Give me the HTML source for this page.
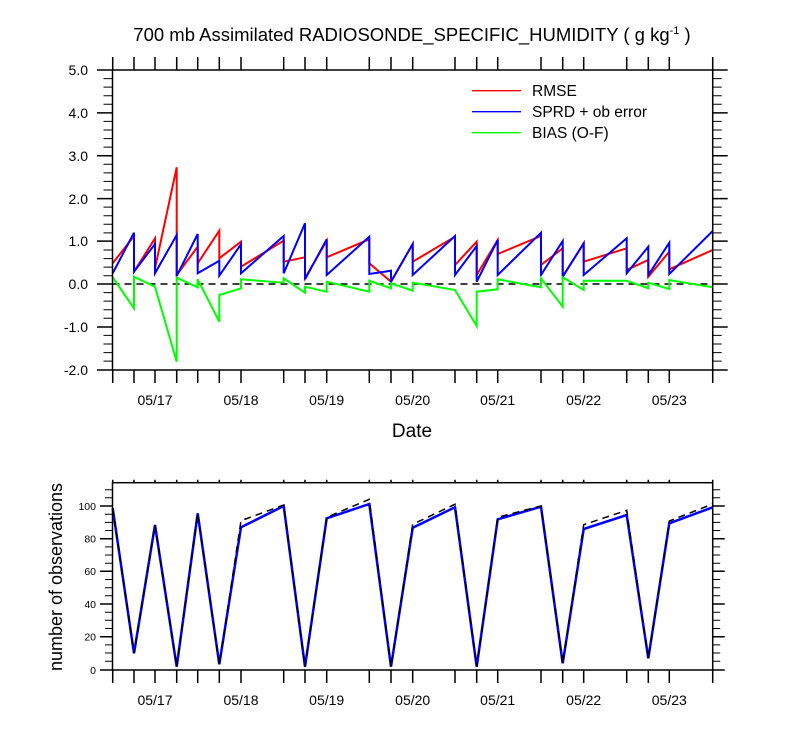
<!DOCTYPE html>
<html><head><meta charset="utf-8"><style>
body{margin:0;background:#fff}
svg text{font-family:"Liberation Sans",sans-serif;fill:#000}
</style></head><body>
<svg width="800" height="750" viewBox="0 0 800 750" xmlns="http://www.w3.org/2000/svg">
<text x="412" y="41" font-size="18.5" text-anchor="middle">700 mb Assimilated RADIOSONDE_SPECIFIC_HUMIDITY ( g kg<tspan font-size="11" dy="-7">-1</tspan><tspan dy="7"> )</tspan></text>
<g id="top">
<line x1="112.5" y1="284" x2="712.7" y2="284" stroke="#000" stroke-width="1.5" stroke-dasharray="7,5"/>
<polyline fill="none" stroke="#ff0000" stroke-width="2" points="112.7,263.3 134,236 134,271.7 155,238.3 155,268.3 176.7,167.3 176.7,275 197.7,246.7 197.7,263.3 219.3,230.7 219.3,258.3 241,241.7 241,266.7 283.7,240.7 283.7,261.7 305,257.3 305,278.3 326.7,240.7 326.7,257.3 369.3,239.3 369.3,263.3 391,281.7 412.7,244 412.7,261.7 455,236.7 455,265 476.7,241.7 476.7,275 497.7,240 497.7,254 541,236 541,265 562.7,248.3 562.7,276.7 583.7,243.3 583.7,261.7 626.7,248.3 626.7,270 648.3,260 648.3,276.7 669.3,251.7 669.3,269.3 712.7,250"/>
<polyline fill="none" stroke="#0000ff" stroke-width="2" points="112.7,273.3 134,232.7 134,271.7 155,244 155,273.3 176.7,235 176.7,276 197.7,234 197.7,273.3 219.3,260.7 219.3,275.7 241,244.3 241,273.3 283.7,236 283.7,273.3 305,223.3 305,279.3 326.7,239.3 326.7,275 369.3,236.7 369.3,274 391,270.7 391,281.7 412.7,244 412.7,275 455,236 455,275 476.7,246 476.7,281.7 497.7,240 497.7,275 541,232.7 541,275 562.7,241 562.7,276.7 583.7,243.3 583.7,275 626.7,238.3 626.7,273.3 648.3,246.7 648.3,275 669.3,242.7 669.3,274 712.7,231"/>
<polyline fill="none" stroke="#00ff00" stroke-width="2" points="112.7,277.3 134,308.3 134,276.7 155,286.7 176.7,361.7 176.7,277.7 197.7,287.3 197.7,279.3 219.3,321.7 219.3,295 241,288.3 241,279.3 283.7,282.7 283.7,278.3 305,292.7 305,286.7 326.7,291.7 326.7,281.7 369.3,291.7 369.3,280.7 391,288.3 391,283.3 412.7,290.7 412.7,282.7 455,290 476.7,326 476.7,291.7 497.7,289.3 497.7,279.3 541,287.3 541,278.3 562.7,306.7 562.7,277.3 583.7,290 583.7,280.7 626.7,280.7 648.3,288.3 648.3,282.7 669.3,289 669.3,280 712.7,287.3"/>
<rect x="112.5" y="70" width="600.2" height="300" fill="none" stroke="#000" stroke-width="1.5"/>
<g stroke="#000" stroke-width="1.5">
<path d="M112.7 370v13M134 370v13M155 370v13M176.7 370v13M197.7 370v13M219.3 370v13M241 370v13M283.7 370v13M305 370v13M326.7 370v13M369.3 370v13M391 370v13M412.7 370v13M455 370v13M476.7 370v13M497.7 370v13M541 370v13M562.7 370v13M583.7 370v13M626.7 370v13M648.3 370v13M669.3 370v13M712.7 370v13"/>
<path d="M112.7 70v-13M134 70v-13M155 70v-13M176.7 70v-13M197.7 70v-13M219.3 70v-13M241 70v-13M283.7 70v-13M305 70v-13M326.7 70v-13M369.3 70v-13M391 70v-13M412.7 70v-13M455 70v-13M476.7 70v-13M497.7 70v-13M541 70v-13M562.7 70v-13M583.7 70v-13M626.7 70v-13M648.3 70v-13M669.3 70v-13M712.7 70v-13"/>
</g>
<g stroke="#000" stroke-width="1.5">
<path d="M97 70h15.5M97 112.9h15.5M97 155.7h15.5M97 198.6h15.5M97 241.1h15.5M97 284h15.5M97 327h15.5M97 370h15.5"/>
<path d="M712.7 70h15M712.7 112.9h15M712.7 155.7h15M712.7 198.6h15M712.7 241.1h15M712.7 284h15M712.7 327h15M712.7 370h15"/>
</g>
<g stroke="#000" stroke-width="1">
<path d="M103.5 78.6h9M103.5 87.1h9M103.5 95.7h9M103.5 104.3h9M103.5 121.4h9M103.5 130h9M103.5 138.6h9M103.5 147.1h9M103.5 164.3h9M103.5 172.9h9M103.5 181.4h9M103.5 190h9M103.5 207.1h9M103.5 215.7h9M103.5 224.3h9M103.5 232.9h9M103.5 250h9M103.5 258.6h9M103.5 267.1h9M103.5 275.7h9M103.5 292.6h9M103.5 301.1h9M103.5 309.7h9M103.5 318.3h9M103.5 335.4h9M103.5 344h9M103.5 352.6h9M103.5 361.1h9"/>
<path d="M712.7 78.6h9M712.7 87.1h9M712.7 95.7h9M712.7 104.3h9M712.7 121.4h9M712.7 130h9M712.7 138.6h9M712.7 147.1h9M712.7 164.3h9M712.7 172.9h9M712.7 181.4h9M712.7 190h9M712.7 207.1h9M712.7 215.7h9M712.7 224.3h9M712.7 232.9h9M712.7 250h9M712.7 258.6h9M712.7 267.1h9M712.7 275.7h9M712.7 292.6h9M712.7 301.1h9M712.7 309.7h9M712.7 318.3h9M712.7 335.4h9M712.7 344h9M712.7 352.6h9M712.7 361.1h9"/>
</g>
<g font-size="14" text-anchor="end">
<text x="88" y="75">5.0</text><text x="88" y="118">4.0</text><text x="88" y="161">3.0</text><text x="88" y="204">2.0</text><text x="88" y="246">1.0</text><text x="88" y="289">0.0</text><text x="88" y="332">-1.0</text><text x="88" y="375">-2.0</text>
</g>
<g font-size="14" text-anchor="middle">
<text x="155" y="405">05/17</text><text x="241" y="405">05/18</text><text x="326.7" y="405">05/19</text><text x="412.7" y="405">05/20</text><text x="497.7" y="405">05/21</text><text x="583.7" y="405">05/22</text><text x="669.3" y="405">05/23</text>
</g>
<text x="412" y="437" font-size="19" text-anchor="middle">Date</text>
<line x1="472" y1="90.7" x2="521" y2="90.7" stroke="#ff0000" stroke-width="1.3"/>
<line x1="472" y1="111.7" x2="521" y2="111.7" stroke="#0000ff" stroke-width="1.3"/>
<line x1="472" y1="132.7" x2="521" y2="132.7" stroke="#00ff00" stroke-width="1.3"/>
<g font-size="15.5"><text x="532" y="96">RMSE</text><text x="532" y="117">SPRD + ob error</text><text x="532" y="138">BIAS (O-F)</text></g>
</g>
<g id="bottom">
<polyline fill="none" stroke="#0000ff" stroke-width="2.5" points="112.7,508.3 134,653.3 155,525 176.7,666.7 197.7,513.3 219.3,664.3 241,527.3 283.7,506 305,666.7 326.7,518.3 369.3,504 391,666.7 412.7,527.7 455,507.3 476.7,666.7 497.7,519.3 541,506.7 562.7,663.3 583.7,529 626.7,515 648.3,658.3 669.3,523.3 712.7,507.3"/>
<polyline fill="none" stroke="#000" stroke-width="1.5" stroke-dasharray="7,5" points="112.7,508.3 134,653.3 155,525 176.7,666.7 197.7,513.3 219.3,664.3 241,520.7 283.7,505 305,666.7 326.7,517.3 369.3,499.3 391,666.7 412.7,524.3 455,504.3 476.7,666.7 497.7,517.3 541,506 562.7,663.3 583.7,524.7 626.7,510.3 648.3,658.3 669.3,521 712.7,504"/>
<rect x="112.5" y="482.7" width="600.2" height="187.3" fill="none" stroke="#000" stroke-width="1.5"/>
<g stroke="#000" stroke-width="1.5">
<path d="M112.7 670v13M134 670v13M155 670v13M176.7 670v13M197.7 670v13M219.3 670v13M241 670v13M283.7 670v13M305 670v13M326.7 670v13M369.3 670v13M391 670v13M412.7 670v13M455 670v13M476.7 670v13M497.7 670v13M541 670v13M562.7 670v13M583.7 670v13M626.7 670v13M648.3 670v13M669.3 670v13M712.7 670v13"/>
<path d="M112.7 482.7v-3M134 482.7v-3M155 482.7v-3M176.7 482.7v-3M197.7 482.7v-3M219.3 482.7v-3M241 482.7v-3M283.7 482.7v-3M305 482.7v-3M326.7 482.7v-3M369.3 482.7v-3M391 482.7v-3M412.7 482.7v-3M455 482.7v-3M476.7 482.7v-3M497.7 482.7v-3M541 482.7v-3M562.7 482.7v-3M583.7 482.7v-3M626.7 482.7v-3M648.3 482.7v-3M669.3 482.7v-3M712.7 482.7v-3"/>
<path d="M100 506h12.5M100 538.7h12.5M100 571.3h12.5M100 604h12.5M100 636.7h12.5M100 670h12.5"/>
<path d="M712.7 506h12M712.7 538.7h12M712.7 571.3h12M712.7 604h12M712.7 636.7h12M712.7 670h12"/>
</g>
<g stroke="#000" stroke-width="1">
<path d="M105 489.7h7.5M105 497.8h7.5M105 514.2h7.5M105 522.4h7.5M105 530.5h7.5M105 546.9h7.5M105 555h7.5M105 563.2h7.5M105 579.5h7.5M105 587.7h7.5M105 595.8h7.5M105 612.2h7.5M105 620.3h7.5M105 628.5h7.5M105 644.9h7.5M105 653h7.5M105 661.2h7.5"/>
<path d="M712.7 489.7h7.5M712.7 497.8h7.5M712.7 514.2h7.5M712.7 522.4h7.5M712.7 530.5h7.5M712.7 546.9h7.5M712.7 555h7.5M712.7 563.2h7.5M712.7 579.5h7.5M712.7 587.7h7.5M712.7 595.8h7.5M712.7 612.2h7.5M712.7 620.3h7.5M712.7 628.5h7.5M712.7 644.9h7.5M712.7 653h7.5M712.7 661.2h7.5"/>
</g>
<g font-size="10.5" text-anchor="end">
<text x="96" y="510">100</text><text x="96" y="542.5">80</text><text x="96" y="575">60</text><text x="96" y="608">40</text><text x="96" y="640.5">20</text><text x="96" y="674">0</text>
</g>
<g font-size="14" text-anchor="middle">
<text x="155" y="705">05/17</text><text x="241" y="705">05/18</text><text x="326.7" y="705">05/19</text><text x="412.7" y="705">05/20</text><text x="497.7" y="705">05/21</text><text x="583.7" y="705">05/22</text><text x="669.3" y="705">05/23</text>
</g>
<text transform="translate(62,577) rotate(-90)" font-size="18" text-anchor="middle">number of observations</text>
</g>
</svg>
</body></html>
